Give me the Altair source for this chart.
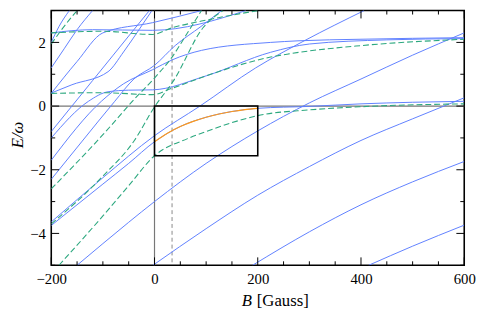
import altair as alt
import pandas as pd

# ---- curves (B [Gauss], E/omega) ----
blue_a = [(-200, -3.64), (-100, -2.25), (0, -0.93), (88, 0.0), (196, 1.2), (290, 2.05), (406, 3.0)]
blue_b = [(-200, -3.75), (-100, -2.45), (-50, -1.8), (0, -1.12), (50, -0.64), (100, -0.35), (150, -0.17), (200, -0.07), (300, -0.01), (400, 0.07), (500, 0.12), (600, 0.15)]
blue_c = [(-150, -5.0), (-100, -4.32), (-50, -3.65), (0, -3.0), (100, -1.8), (200, -0.78), (300, 0.1), (400, 0.85), (500, 1.6), (600, 2.3)]
blue_d = [(-3, -5.0), (100, -3.85), (200, -2.8), (300, -1.9), (400, -1.08), (500, -0.4), (600, 0.26)]
blue_e = [(190, -5.0), (300, -3.95), (400, -3.1), (500, -2.38), (600, -1.74)]
blue_f = [(415, -5.0), (500, -4.4), (600, -3.74)]
blue_g = [(-200, -1.7), (-103, 0.15), (-60, 0.7), (-4, 1.14), (34, 1.45), (91, 1.75), (225, 2.0), (278, 2.05), (400, 2.1), (600, 2.15)]
blue_h = [(-200, -1.0), (-128, 0.15), (-90, 0.45), (-50, 0.5), (-4, 0.51), (100, 0.95), (225, 1.69), (300, 1.95), (450, 2.08), (600, 2.12)]
blue_i = [(-200, -2.3), (-140, -1.1), (-77, 0.15), (-40, 0.85), (0, 1.28), (40, 1.9), (90, 2.5), (130, 3.0)]
blue_j = [(-200, 2.3), (-120, 2.4), (-4, 2.38), (177, 3.0)]
blue_k = [(-200, 0.4), (-150, 1.4), (-100, 2.3), (-4, 2.62), (91, 3.0)]
blue_m = [(-200, -0.8), (-160, 0.0), (-120, 0.8), (-80, 1.6), (-40, 2.4), (-10, 3.0)]
blue_n = [(-200, 0.41), (-160, 0.67), (-90, 1.08), (-60, 1.7), (-30, 2.4), (-5, 3.0)]
blue_o = [(-200, 1.2), (-175, 1.8), (-150, 2.4), (-120, 3.0)]
blue_p = [(-200, 2.0), (-185, 2.5), (-165, 3.0)]

orange_a = [(0, -1.12), (25, -0.85), (50, -0.64), (75, -0.48), (100, -0.35), (125, -0.25), (150, -0.17), (175, -0.11), (200, -0.07)]

green_a = [(-185, -5.0), (-100, -3.45), (-50, -2.5), (0, -1.56), (63, -1.03), (100, -0.8), (150, -0.52), (200, -0.3), (300, -0.12), (400, -0.02), (600, 0.07)]
green_b = [(-200, 0.4), (-100, 0.42), (-4, 0.36), (34, 0.56), (100, 0.95), (225, 1.54), (260, 1.64), (400, 1.9), (600, 2.1)]
green_c = [(-200, -2.6), (-100, -0.9), (-40, 0.2), (2, 0.92), (34, 1.54), (60, 2.2), (91, 3.0)]
green_d = [(-200, 2.3), (-100, 2.35), (-4, 2.25), (34, 2.46), (91, 2.67), (200, 3.0)]
green_e = [(-200, 1.95), (-180, 2.4), (-150, 3.0)]
green_f = [(-200, -3.7), (-100, -2.2), (-39, -1.08), (-1, -0.05), (37, 0.8), (94, 2.46), (133, 3.0)]

x_major = [-200, 0, 200, 400, 600]
x_minor = [-150, -100, -50, 50, 100, 150, 250, 300, 350, 450, 500, 550]
y_major = [-4, -2, 0, 2]
y_minor = [-5, -3, -1, 1, 3]
marker_B = 34
box_B = [0, 200]
box_E = [-1.56, 0]

W, H = 420, 259
blue_col = "#5f80ff"
green_col = "#2ca87f"
orange_col = "#ff9a1a"
font = "Liberation Serif"


def to_df(curves):
    rows = []
    for name, pts in curves.items():
        for i, (b, e) in enumerate(pts):
            rows.append({"curve": name, "order": i, "B": b, "E": e})
    return pd.DataFrame(rows)


blue_df = to_df({"a": blue_a, "b": blue_b, "c": blue_c, "d": blue_d, "e": blue_e, "f": blue_f,
                 "g": blue_g, "h": blue_h, "i": blue_i, "j": blue_j, "k": blue_k, "m": blue_m,
                 "n": blue_n, "o": blue_o, "p": blue_p})
green_df = to_df({"a": green_a, "b": green_b, "c": green_c, "d": green_d, "e": green_e, "f": green_f})
orange_df = to_df({"a": orange_a})

xs = alt.Scale(domain=[-200, 600], nice=False, zero=False)
ys = alt.Scale(domain=[-5, 3], nice=False, zero=False)

x_axis = alt.Axis(values=x_major, title=None, domain=False, ticks=False, labelFont=font, labelFontSize=15,
                  labelPadding=7, labelColor="black", grid=False, labelFlush=False)
y_axis = alt.Axis(values=y_major, title=None, domain=False, ticks=False, labelFont=font, labelFontSize=15,
                  labelPadding=6, labelColor="black", grid=False, labelFlush=False)
X = alt.X("B:Q", scale=xs, axis=x_axis)
Y = alt.Y("E:Q", scale=ys, axis=y_axis)

zero_h = alt.Chart(pd.DataFrame({"E": [0]})).mark_rule(color="#777777", strokeWidth=1.2).encode(y=Y)
zero_v = alt.Chart(pd.DataFrame({"B": [0]})).mark_rule(color="#777777", strokeWidth=1.2).encode(x=X)
marker = alt.Chart(pd.DataFrame({"B": [marker_B]})).mark_rule(color="#888888", strokeWidth=1,
                                                               strokeDash=[4, 3]).encode(x=X)

blue = alt.Chart(blue_df).mark_line(color=blue_col, strokeWidth=1, clip=True, interpolate="monotone").encode(
    x=X, y=Y, detail="curve:N", order="order:Q")
green = alt.Chart(green_df).mark_line(color=green_col, strokeWidth=1.1, clip=True, strokeDash=[6, 3],
                                      interpolate="monotone").encode(x=X, y=Y, detail="curve:N", order="order:Q")
orange = alt.Chart(orange_df).mark_line(color=orange_col, strokeWidth=1.2, clip=True,
                                        interpolate="monotone").encode(x=X, y=Y, order="order:Q")

box = alt.Chart(pd.DataFrame({"B": [box_B[0]], "B2": [box_B[1]], "E": [box_E[0]], "E2": [box_E[1]]})).mark_rect(
    fill=None, stroke="black", strokeWidth=1.6).encode(x=X, x2="B2:Q", y=Y, y2="E2:Q")


def xticks(vals, length, top):
    df = pd.DataFrame({"B": vals})
    if top:
        return alt.Chart(df).mark_rule(color="black", strokeWidth=1).encode(x=X, y=alt.value(0), y2=alt.value(length))
    return alt.Chart(df).mark_rule(color="black", strokeWidth=1).encode(x=X, y=alt.value(H), y2=alt.value(H - length))


def yticks(vals, length, right):
    df = pd.DataFrame({"E": vals})
    if right:
        return alt.Chart(df).mark_rule(color="black", strokeWidth=1).encode(y=Y, x=alt.value(W), x2=alt.value(W - length))
    return alt.Chart(df).mark_rule(color="black", strokeWidth=1).encode(y=Y, x=alt.value(0), x2=alt.value(length))


ticks = [xticks(x_major, 8, False), xticks(x_major, 8, True), xticks(x_minor, 4, False), xticks(x_minor, 4, True),
         yticks(y_major, 8, False), yticks(y_major, 8, True), yticks(y_minor, 4, False), yticks(y_minor, 4, True)]

xtitle_b = alt.Chart(pd.DataFrame({"t": ["B"]})).mark_text(font=font, fontSize=17, fontStyle="italic", align="right",
                                                          baseline="middle").encode(
    x=alt.value(W / 2 - 6), y=alt.value(H + 36), text="t:N")
xtitle_g = alt.Chart(pd.DataFrame({"t": ["[Gauss]"]})).mark_text(font=font, fontSize=17, align="left",
                                                                 baseline="middle").encode(
    x=alt.value(W / 2 - 1), y=alt.value(H + 36), text="t:N")
ytitle = alt.Chart(pd.DataFrame({"t": ["E/ω"]})).mark_text(font=font, fontSize=17, fontStyle="italic", angle=270,
                                                          align="center", baseline="middle").encode(
    x=alt.value(-34), y=alt.value(H / 2 - 3), text="t:N")

chart = alt.layer(zero_h, zero_v, marker, blue, green, orange, box, *ticks, xtitle_b, xtitle_g,
                  ytitle).properties(
    width=W, height=H, autosize=alt.AutoSizeParams(type="none"),
    padding={"left": 44, "top": 0, "right": 14, "bottom": 50}
).configure_view(stroke="black", strokeWidth=1.6)

chart.save("out.html", embed_options={"renderer": "svg", "actions": False})
